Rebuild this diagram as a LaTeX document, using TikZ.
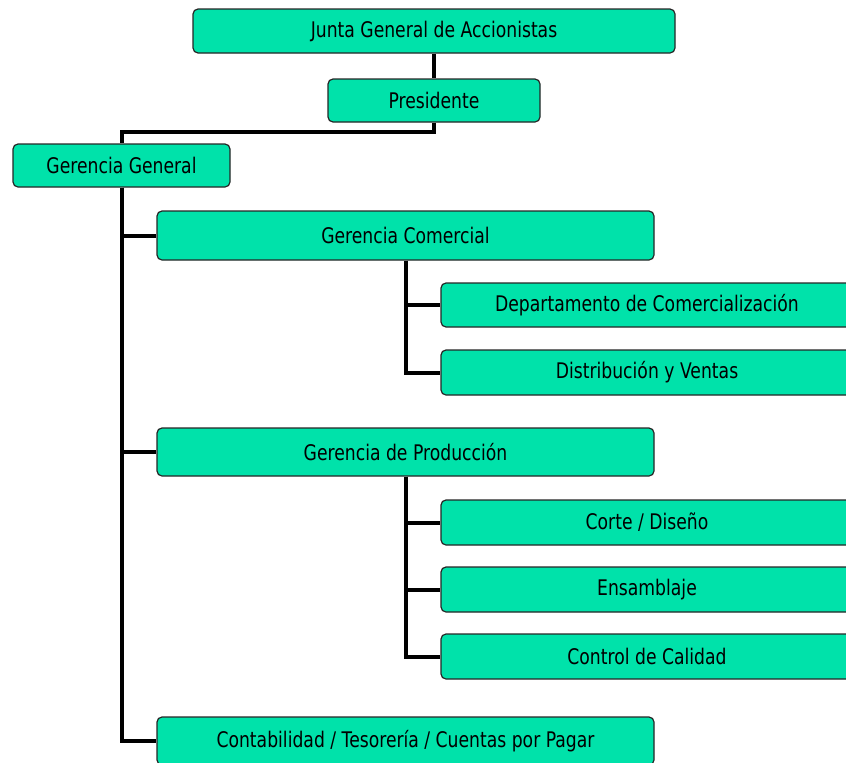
\documentclass[tikz,border=0pt]{standalone}
\usepackage{fontspec}
\setmainfont{DejaVu Sans}[FakeStretch=0.8]
\definecolor{boxgreen}{RGB}{0,226,170}

\begin{document}
\begin{tikzpicture}[x=1pt,y=-1pt,
every node/.style = {shape=rectangle, rounded corners=5pt,
	draw=black!85, line width=1.2pt, fill=boxgreen,
	align=center, font=\fontsize{21.5}{24}\selectfont},
link/.style = {draw, line width=4pt, rounded corners=0pt}]
\useasboundingbox (0,0) rectangle (846,763);
\clip (0,0) rectangle (846,763);
\node (junta) [minimum width=482pt, minimum height=44pt] at (434,31) {Junta General de Accionistas};
\node (pres) [minimum width=212pt, minimum height=43pt] at (434,100.5) {Presidente};
\node (gg) [minimum width=217pt, minimum height=43pt] at (121.5,165.5) {Gerencia General};
\node (com) [minimum width=497pt, minimum height=49pt] at (405.5,235.5) {Gerencia Comercial};
\node (depto) [minimum width=412pt, minimum height=44pt] at (647,305) {Departamento de Comercialización};
\node (dist) [minimum width=412pt, minimum height=45pt] at (647,372.5) {Distribución y Ventas};
\node (prod) [minimum width=497pt, minimum height=48pt] at (405.5,452) {Gerencia de Producción};
\node (corte) [minimum width=412pt, minimum height=45pt] at (647,522.5) {Corte / Diseño};
\node (ensam) [minimum width=412pt, minimum height=45pt] at (647,589.5) {Ensamblaje};
\node (calidad) [minimum width=412pt, minimum height=45pt] at (647,656.5) {Control de Calidad};
\node (conta) [minimum width=497pt, minimum height=48pt] at (405.5,741) {Contabilidad / Tesorería / Cuentas por Pagar};
\path[link] (junta) -- (pres);
\path[link] (pres.south) -- ++(0,9) -| (gg.north);
\path[link] (gg.south) |- (com.west);
\path[link] (gg.south) |- (prod.west);
\path[link] (gg.south) |- (conta.west);
\path[link] (com.south) |- (depto.west);
\path[link] (com.south) |- (dist.west);
\path[link] (prod.south) |- (corte.west);
\path[link] (prod.south) |- (ensam.west);
\path[link] (prod.south) |- (calidad.west);
\end{tikzpicture}
\end{document}
